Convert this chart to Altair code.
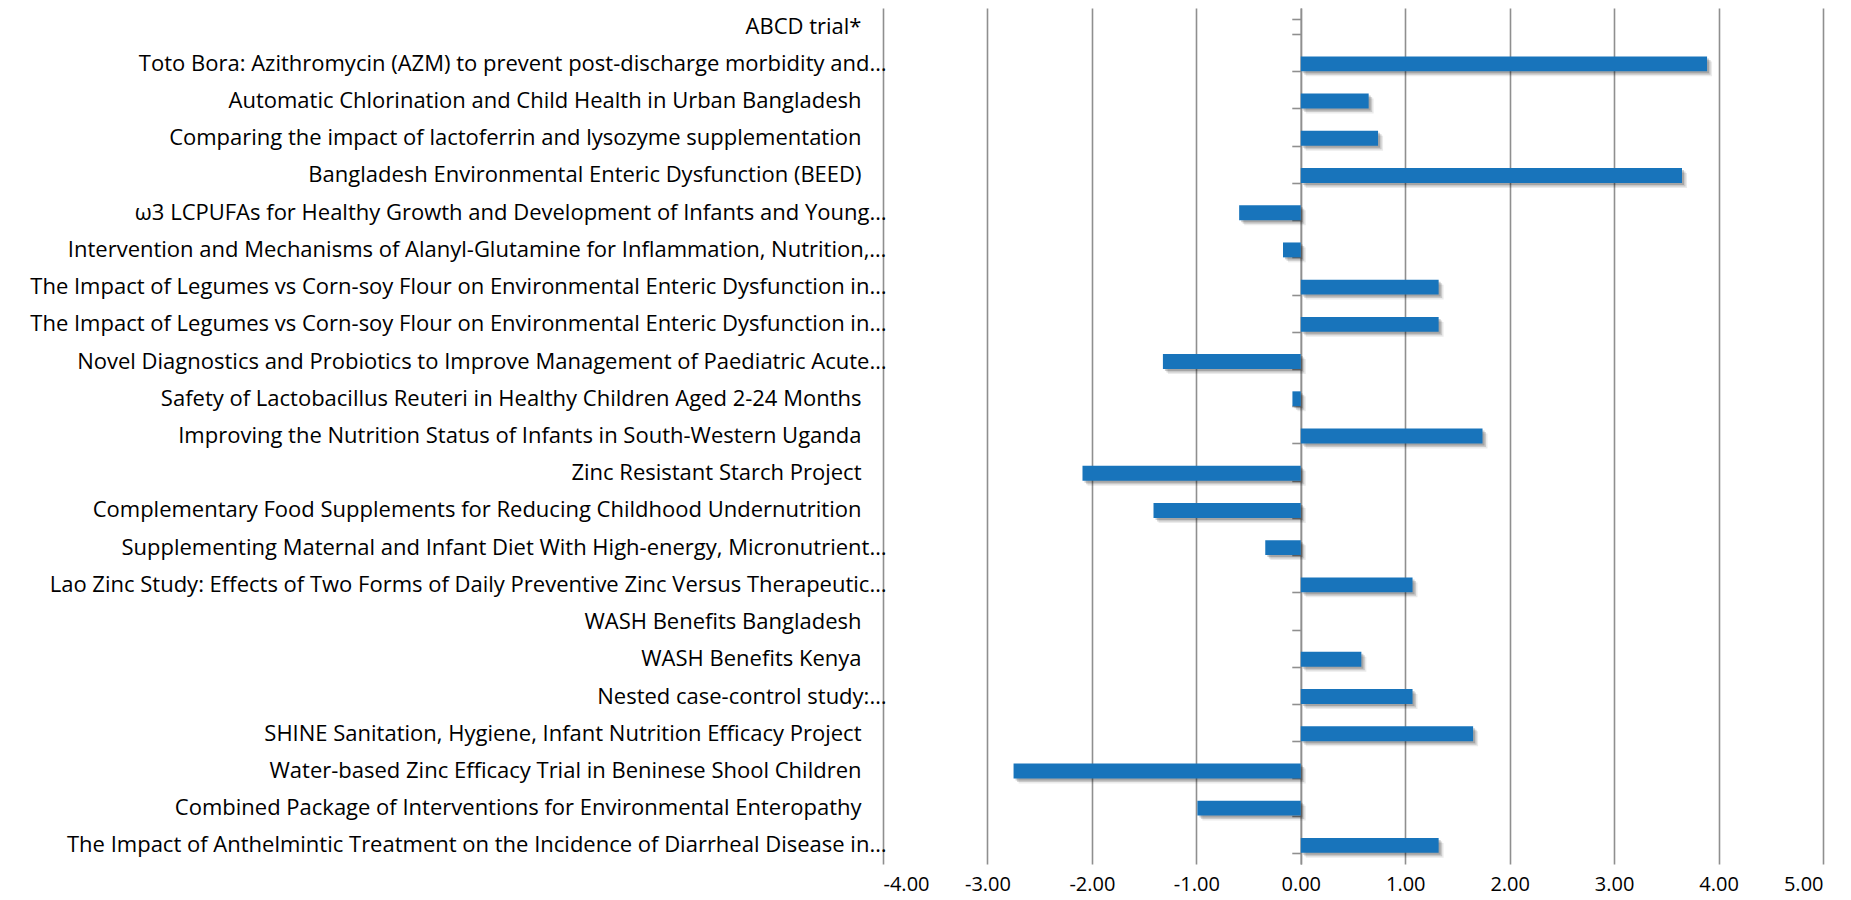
import altair as alt
import pandas as pd

labels = [
    "ABCD trial*",
    "Toto Bora: Azithromycin (AZM) to prevent post-discharge morbidity and…",
    "Automatic Chlorination and Child Health in Urban Bangladesh",
    "Comparing the impact of lactoferrin and lysozyme supplementation",
    "Bangladesh Environmental Enteric Dysfunction (BEED)",
    "ω3 LCPUFAs for Healthy Growth and Development of Infants and Young…",
    "Intervention and Mechanisms of Alanyl-Glutamine for Inflammation, Nutrition,…",
    "The Impact of Legumes vs Corn-soy Flour on Environmental Enteric Dysfunction in…",
    "The Impact of Legumes vs Corn-soy Flour on Environmental Enteric Dysfunction in…\u200b",
    "Novel Diagnostics and Probiotics to Improve Management of Paediatric Acute…",
    "Safety of Lactobacillus Reuteri in Healthy Children Aged 2-24 Months",
    "Improving the Nutrition Status of Infants in South-Western Uganda",
    "Zinc Resistant Starch Project",
    "Complementary Food Supplements for Reducing Childhood Undernutrition",
    "Supplementing Maternal and Infant Diet With High-energy, Micronutrient…",
    "Lao Zinc Study: Effects of Two Forms of Daily Preventive Zinc Versus Therapeutic…",
    "WASH Benefits Bangladesh",
    "WASH Benefits Kenya",
    "Nested case-control study:…",
    "SHINE Sanitation, Hygiene, Infant Nutrition Efficacy Project",
    "Water-based Zinc Efficacy Trial in Beninese Shool Children",
    "Combined Package of Interventions for Environmental Enteropathy",
    "The Impact of Anthelmintic Treatment on the Incidence of Diarrheal Disease in…",
]

values = [None, 3.89, 0.65, 0.74, 3.65, -0.59, -0.17, 1.32, 1.32, -1.32, -0.08,
          1.74, -2.09, -1.41, -0.34, 1.07, None, 0.58, 1.07, 1.65, -2.75, -0.99, 1.32]

x_ticks = [-4, -3, -2, -1, 0, 1, 2, 3, 4, 5]

df = pd.DataFrame({"label": labels, "value": values})

FONT = "Open Sans"
GRID = "#8f8f8f"
W, H = 940, 856

x_scale = alt.Scale(domain=[-4, 5], nice=False, zero=False)
y_scale = alt.Scale(domain=labels, paddingInner=0.6, paddingOuter=0.3)

x_enc = alt.X("value:Q", scale=x_scale, title=None,
              axis=alt.Axis(values=x_ticks, grid=True, gridColor=GRID,
                            labelExpr="replace(format(datum.value, '.2f'), '\u2212', '-')",
                            gridWidth=1.6, domain=False, ticks=False, labelPadding=10,
                            labelFont=FONT, labelFontSize=20, labelColor="#000"))

base = alt.Chart(df)

shadows = []
for off, op in [(2, 0.18), (3.5, 0.14), (5, 0.08)]:
    shadows.append(
        base.mark_bar(color="#000", opacity=op, xOffset=off, yOffset=off).encode(
            x=x_enc,
            y=alt.Y("label:N", sort=None, scale=y_scale, axis=None),
        )
    )

zero_axis = base.mark_bar(opacity=0).encode(
    x=x_enc,
    y=alt.Y("label:N", sort=None, scale=y_scale, title=None,
            axis=alt.Axis(orient="left", labels=False, title=None, grid=False,
                          domain=True, domainColor=GRID, domainWidth=1.6,
                          ticks=True, tickColor=GRID, tickWidth=1.6, tickSize=9,
                          tickBand="extent", offset=-W * 4 / 9)),
)

bars = base.mark_bar(color="#1874bb").encode(
    x=x_enc,
    y=alt.Y("label:N", sort=None, scale=y_scale, title=None,
            axis=alt.Axis(orient="left", domain=False, ticks=False, grid=False,
                          labelPadding={"condition": {"test": "indexof(datum.value, '\u2026') < 0",
                                                      "value": 22},
                                        "value": -3},
                          labelLimit=2000, labelFont=FONT,
                          labelFontSize=22, labelColor="#000")),
)

chart = alt.layer(*shadows, zero_axis, bars).resolve_axis(y="independent").properties(
    width=W, height=H,
    autosize=alt.AutoSizeParams(type="none"),
    padding={"left": 875, "top": 0, "right": 20, "bottom": 36},
).configure_view(stroke=None)

chart.save("out.html", embed_options={"renderer": "svg", "actions": False})
